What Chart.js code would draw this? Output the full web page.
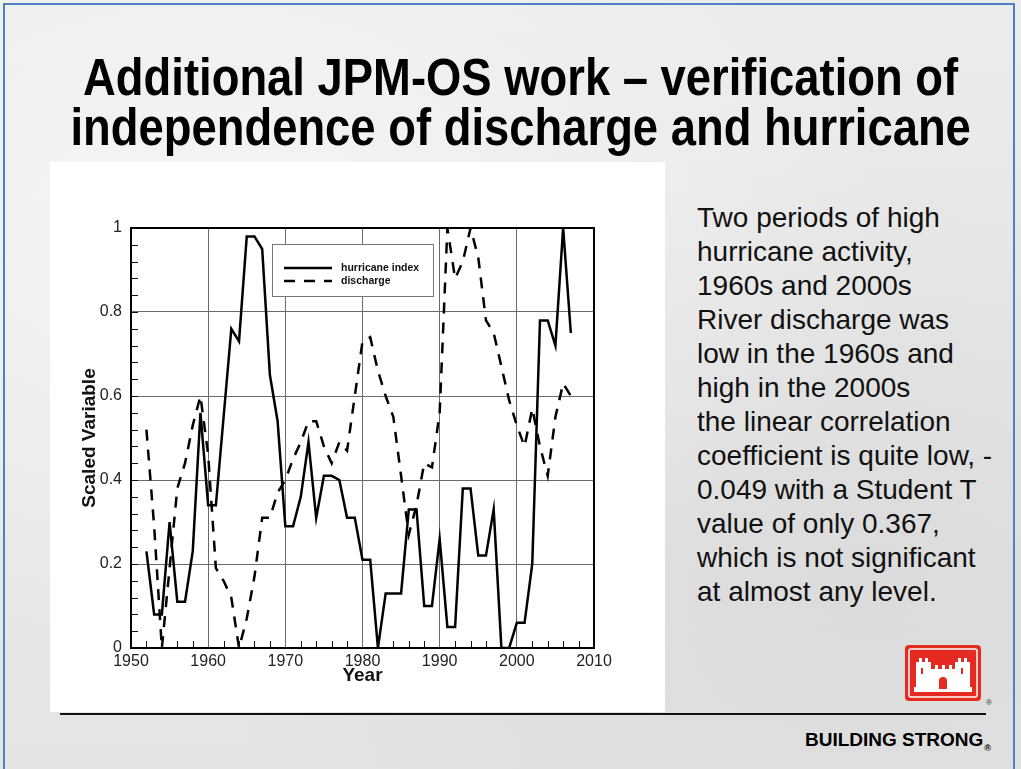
<!DOCTYPE html>
<html>
<head>
<meta charset="utf-8">
<title>JPM-OS discharge vs hurricane index</title>
<script src="https://cdn.jsdelivr.net/npm/chart.js@4/dist/chart.umd.min.js"></script>
<style>
  html, body { margin: 0; padding: 0; }
  body {
    width: 1021px; height: 769px; overflow: hidden; position: relative;
    font-family: "Liberation Sans", Arial, sans-serif;
    background:
      radial-gradient(ellipse at 20% 30%, rgba(255,255,255,0.55), rgba(255,255,255,0) 60%),
      radial-gradient(ellipse at 85% 75%, rgba(200,200,200,0.35), rgba(200,200,200,0) 55%),
      linear-gradient(#ebebeb, #e4e4e4);
  }
  .frame {
    position: absolute; left: 3px; top: 3px; width: 1012px; height: 790px;
    border: 2px solid #4f80c1; box-sizing: border-box;
  }
  .title {
    position: absolute; left: 9px; top: 53px; width: 1021px;
    text-align: center; font-weight: bold; font-size: 51px; line-height: 50px;
    color: #000; transform: scaleX(0.89); transform-origin: 521px 0;
    white-space: nowrap;
  }
  .panel {
    position: absolute; left: 50px; top: 162px; width: 615px; height: 550px;
    background: #fff;
  }
  .notes {
    position: absolute; left: 697px; top: 201px; width: 320px;
    font-size: 28px; line-height: 34px; color: #111; white-space: nowrap;
  }
  .rule {
    position: absolute; left: 60px; top: 713px; width: 926px; height: 2px; background: #111;
  }
  .brand {
    position: absolute; right: 30px; top: 729px;
    font-weight: bold; font-size: 19px; color: #000;
  }
  .brand sup { font-size: 9px; vertical-align: -5px; margin-left: 1px; }
  .logo { position: absolute; left: 904px; top: 644px; }
  #wrap { position: absolute; left: 60px; top: 205px; width: 560px; height: 490px; }
</style>
</head>
<body>
<div class="panel"></div>
<div class="frame"></div>
<div class="title">Additional JPM-OS work – verification of<br>independence of discharge and hurricane</div>

<div id="wrap"><canvas id="chart" width="560" height="490"></canvas></div>

<div class="notes">Two periods of high<br>hurricane activity,<br>1960s and 2000s<br>River discharge was<br>low in the 1960s and<br>high in the 2000s<br>the linear correlation<br>coefficient is quite low, -<br>0.049 with a Student T<br>value of only 0.367,<br>which is not significant<br>at almost any level.</div>

<svg class="logo" width="92" height="64" viewBox="0 0 92 64">
  <rect x="1" y="1" width="76" height="56" rx="4" fill="#e52a22"/>
  <rect x="5" y="5" width="68" height="48" rx="2" fill="none" stroke="#fff" stroke-width="1.5"/>
  <g fill="#fff">
    <path d="M12 45 V18 h3 v-4 h3 v4 h3 v-4 h3 v4 h3 v27 z"/>
    <path d="M51 45 V18 h3 v-4 h3 v4 h3 v-4 h3 v4 h3 v27 z"/>
    <path d="M27 45 V25 h4 v-4 h3 v4 h4 v-4 h3 v4 h4 v-4 h3 v4 h4 v20 z"/>
    <rect x="10" y="43" width="58" height="5"/>
  </g>
  <path d="M35 45 v-8 a4 4 0 0 1 8 0 v8 z" fill="#e52a22"/>
  <rect x="17" y="24" width="2" height="6" fill="#e52a22"/>
  <rect x="57" y="24" width="2" height="6" fill="#e52a22"/>
  <text x="82" y="61" font-size="8" fill="#333" font-family="Liberation Sans, Arial">®</text>
</svg>

<div class="rule"></div>
<div class="brand">BUILDING STRONG<sup>®</sup></div>

<script>
// yearly series, 1952-2007, both scaled to 0..1
const years = [
  1952, 1953, 1954, 1955, 1956, 1957, 1958, 1959, 1960, 1961,
  1962, 1963, 1964, 1965, 1966, 1967, 1968, 1969, 1970, 1971,
  1972, 1973, 1974, 1975, 1976, 1977, 1978, 1979, 1980, 1981,
  1982, 1983, 1984, 1985, 1986, 1987, 1988, 1989, 1990, 1991,
  1992, 1993, 1994, 1995, 1996, 1997, 1998, 1999, 2000, 2001,
  2002, 2003, 2004, 2005, 2006, 2007
];

const hurricaneIndex = [
  0.23, 0.08, 0.08, 0.30, 0.11, 0.11, 0.23, 0.56, 0.34, 0.34,
  0.55, 0.76, 0.73, 0.98, 0.98, 0.95, 0.65, 0.54, 0.29, 0.29,
  0.36, 0.49, 0.31, 0.41, 0.41, 0.40, 0.31, 0.31, 0.21, 0.21,
  0.00, 0.13, 0.13, 0.13, 0.33, 0.33, 0.10, 0.10, 0.26, 0.05,
  0.05, 0.38, 0.38, 0.22, 0.22, 0.33, 0.00, 0.00, 0.06, 0.06,
  0.20, 0.78, 0.78, 0.72, 1.00, 0.75
];

const discharge = [
  0.52, 0.29, 0.00, 0.19, 0.38, 0.44, 0.53, 0.60, 0.46, 0.19,
  0.16, 0.12, 0.00, 0.07, 0.17, 0.31, 0.31, 0.37, 0.40, 0.45,
  0.49, 0.54, 0.54, 0.48, 0.44, 0.49, 0.47, 0.60, 0.73, 0.74,
  0.66, 0.60, 0.55, 0.41, 0.27, 0.34, 0.44, 0.43, 0.56, 1.00,
  0.88, 0.92, 1.00, 0.93, 0.78, 0.75, 0.67, 0.59, 0.53, 0.48,
  0.57, 0.48, 0.41, 0.55, 0.63, 0.60
];

const xTicks = [1950, 1960, 1970, 1980, 1990, 2000, 2010];
const yTicks = [0, 0.2, 0.4, 0.6, 0.8, 1];

const toPoints = (vals) => years.map((yr, i) => ({ x: yr, y: vals[i] }));

// box around the plot, small inward ticks, and the boxed key
const plotDecor = {
  id: 'plotDecor',
  afterDraw(chart) {
    const { ctx, chartArea: a, scales } = chart;
    const xs = scales.x, ys = scales.y;
    ctx.save();

    ctx.strokeStyle = '#111';
    ctx.lineWidth = 1;
    ctx.beginPath();
    for (let v = 0.04; v < 1; v += 0.04) {
      const py = Math.round(ys.getPixelForValue(v)) + 0.5;
      ctx.moveTo(a.left, py);
      ctx.lineTo(a.left + 7, py);
    }
    for (let yr = xTicks[0] + 2; yr < xTicks[xTicks.length - 1]; yr += 2) {
      if (yr % 10 === 0) continue;
      const px = Math.round(xs.getPixelForValue(yr)) + 0.5;
      ctx.moveTo(px, a.bottom);
      ctx.lineTo(px, a.bottom - 7);
    }
    ctx.stroke();

    ctx.lineWidth = 2;
    ctx.strokeStyle = '#000';
    ctx.strokeRect(a.left, a.top, a.right - a.left, a.bottom - a.top);

    // key
    const bx = a.left + 141, by = a.top + 16;
    ctx.fillStyle = '#fff';
    ctx.fillRect(bx, by, 161, 52);
    ctx.lineWidth = 1;
    ctx.strokeStyle = '#777';
    ctx.strokeRect(bx + 0.5, by + 0.5, 161, 52);
    chart.data.datasets.forEach((ds, i) => {
      const ly = by + 24 + i * 13;
      ctx.strokeStyle = '#000';
      ctx.lineWidth = 2.5;
      ctx.setLineDash(ds.borderDash || []);
      ctx.beginPath();
      ctx.moveTo(bx + 12, ly);
      ctx.lineTo(bx + 60, ly);
      ctx.stroke();
      ctx.setLineDash([]);
      ctx.fillStyle = '#111';
      ctx.font = 'bold 10.5px "Liberation Sans", Arial, sans-serif';
      ctx.textBaseline = 'middle';
      ctx.fillText(ds.label, bx + 69, ly);
    });
    ctx.restore();
  }
};

new Chart(document.getElementById('chart'), {
  type: 'line',
  data: {
    datasets: [
      {
        label: 'hurricane index',
        data: toPoints(hurricaneIndex),
        borderColor: '#000',
        borderWidth: 2.5,
        pointRadius: 0,
        tension: 0
      },
      {
        label: 'discharge',
        data: toPoints(discharge),
        borderColor: '#000',
        borderWidth: 2.5,
        borderDash: [11, 9],
        pointRadius: 0,
        tension: 0
      }
    ]
  },
  options: {
    responsive: false,
    animation: false,
    layout: { padding: { top: 23, right: 26, left: 0, bottom: 0 } },
    plugins: { legend: { display: false }, tooltip: { enabled: false } },
    scales: {
      x: {
        type: 'linear',
        min: xTicks[0],
        max: xTicks[xTicks.length - 1],
        afterFit: (s) => { s.height = 47; },
        afterBuildTicks: (s) => { s.ticks = xTicks.map(v => ({ value: v })); },
        grid: { color: '#6a6a6a', lineWidth: 1, drawTicks: false },
        border: { display: false },
        ticks: {
          padding: 4,
          color: '#222',
          font: { family: '"Liberation Sans", Arial, sans-serif', size: 16 },
          callback: (v) => String(v)
        },
        title: {
          display: true,
          text: 'Year',
          color: '#111',
          padding: { top: 0, bottom: 8 },
          font: { family: '"Liberation Sans", Arial, sans-serif', size: 19, weight: 'bold' }
        }
      },
      y: {
        min: 0,
        max: 1,
        afterFit: (s) => { s.width = 71; },
        afterBuildTicks: (s) => { s.ticks = yTicks.map(v => ({ value: v })); },
        grid: { color: '#6a6a6a', lineWidth: 1, drawTicks: false },
        border: { display: false },
        ticks: {
          padding: 9,
          color: '#222',
          font: { family: '"Liberation Sans", Arial, sans-serif', size: 16 },
          callback: (v) => String(+v.toFixed(1))
        },
        title: {
          display: true,
          text: 'Scaled Variable',
          color: '#111',
          padding: { top: 18, bottom: 0 },
          font: { family: '"Liberation Sans", Arial, sans-serif', size: 19, weight: 'bold' }
        }
      }
    }
  },
  plugins: [plotDecor]
});
</script>
</body>
</html>
